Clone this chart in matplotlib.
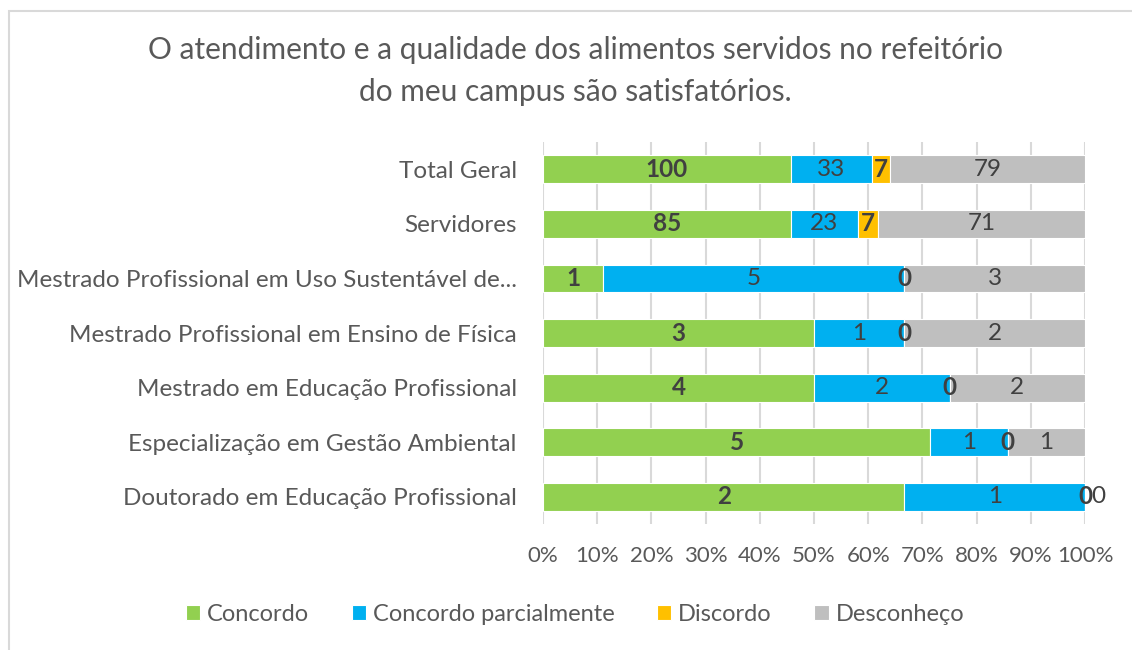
import matplotlib.pyplot as plt
from matplotlib.patches import Rectangle

plt.rcParams["font.family"] = ["Lato", "DejaVu Sans"]

categories = [
    "Total Geral",
    "Servidores",
    "Mestrado Profissional em Uso Sustentável de...",
    "Mestrado Profissional em Ensino de Física",
    "Mestrado em Educação Profissional",
    "Especialização em Gestão Ambiental",
    "Doutorado em Educação Profissional",
]
concordo = [100, 85, 1, 3, 4, 5, 2]
concordo_parcialmente = [33, 23, 5, 1, 2, 1, 1]
discordo = [7, 7, 0, 0, 0, 0, 0]
desconheco = [79, 71, 3, 2, 2, 1, 0]

series = [
    ("Concordo", concordo, "#92D050", "bold"),
    ("Concordo parcialmente", concordo_parcialmente, "#00B0F0", "normal"),
    ("Discordo", discordo, "#FFC000", "bold"),
    ("Desconheço", desconheco, "#BFBFBF", "normal"),
]
x_ticks = [i / 10 for i in range(11)]
x_tick_labels = [f"{i * 10}%" for i in range(11)]

text_color = "#404040"
axis_color = "#595959"

fig = plt.figure(figsize=(11.32, 6.5), dpi=100)
ax = fig.add_axes([0.4797, 0.1938, 0.4788, 0.5877])

totals = [sum(vals) for vals in zip(concordo, concordo_parcialmente, discordo, desconheco)]
rows = list(range(len(categories)))
left = [0.0] * len(categories)
last_label_x = [None] * len(categories)

for name, values, color, weight in series:
    widths = [v / t for v, t in zip(values, totals)]
    ax.barh(rows, widths, left=left, height=0.51, color=color,
            edgecolor="white", linewidth=0.8, label=name, zorder=2)
    for i, (v, w) in enumerate(zip(values, widths)):
        cx = left[i] + w / 2
        # two labels on the same spot: nudge the second one to the right
        offset = 9.5 if last_label_x[i] is not None and abs(cx - last_label_x[i]) < 1e-9 else 0
        ax.annotate(str(v), (cx, i), xytext=(offset, 0), textcoords="offset points",
                    ha="center", va="center", fontsize=17.5, color=text_color,
                    fontweight=weight, annotation_clip=False, zorder=3)
        last_label_x[i] = cx
    left = [l + w for l, w in zip(left, widths)]

ax.set_xlim(0, 1)
ax.set_ylim(len(categories) - 0.5, -0.5)
ax.set_xticks(x_ticks)
ax.set_xticklabels(x_tick_labels)
ax.set_yticks(rows)
ax.set_yticklabels(categories)
ax.tick_params(axis="x", length=0, pad=16, labelsize=16, labelcolor=axis_color)
ax.tick_params(axis="y", length=0, pad=19, labelsize=17.5, labelcolor=axis_color)
ax.grid(axis="x", color="#D9D9D9", linewidth=1.5, zorder=0)
ax.set_axisbelow(True)
for spine in ax.spines.values():
    spine.set_visible(False)

fig.text(0.508, 0.891, "O atendimento e a qualidade dos alimentos servidos no refeitório\ndo meu campus são satisfatórios.",
         ha="center", va="center", fontsize=21.5, color=axis_color, linespacing=1.6)

fig.legend(loc="center", bbox_to_anchor=(0.508, 0.055), ncol=4, frameon=False,
           fontsize=17, labelcolor=axis_color, handlelength=0.6, handleheight=0.6,
           handletextpad=0.3, columnspacing=1.8)

# chart area border
fig.patches.append(Rectangle((9 / 1132, -0.1), 1.2, 1 - 11 / 650 + 0.1,
                             transform=fig.transFigure, fill=False,
                             edgecolor="#D9D9D9", linewidth=1.5))

fig.savefig("out.png", dpi=100)
